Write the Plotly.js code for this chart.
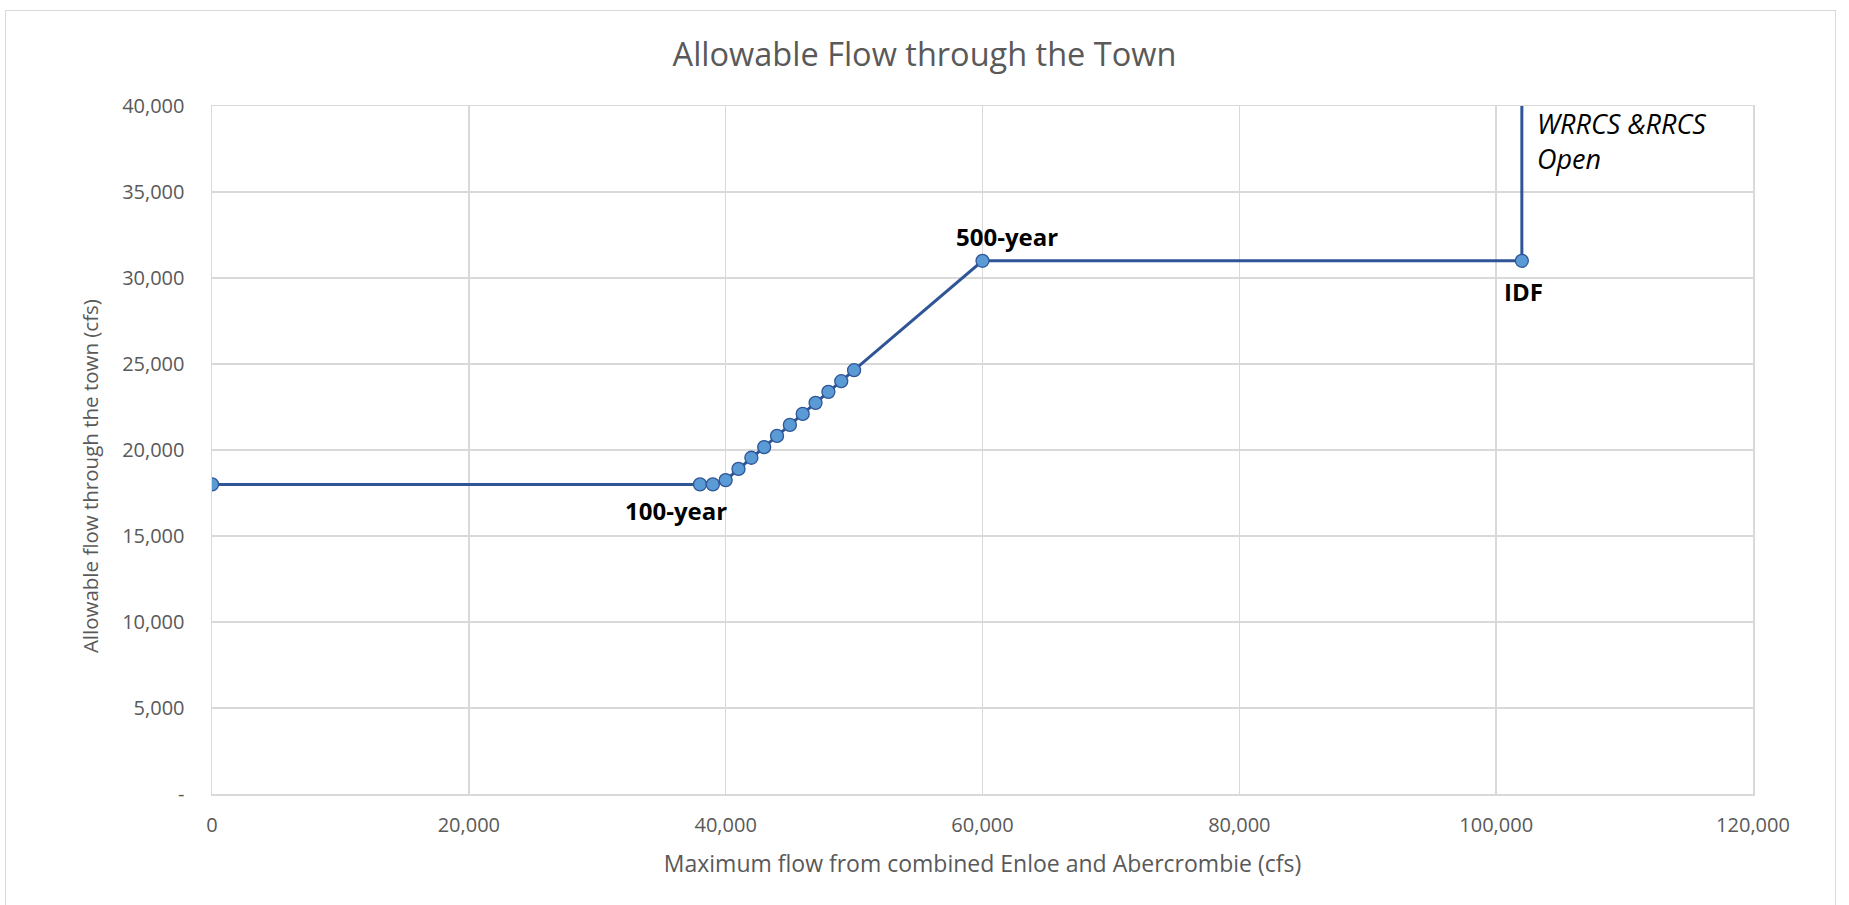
<!DOCTYPE html>
<html>
<head>
<meta charset="utf-8">
<script src="https://cdn.plot.ly/plotly-3.0.1.min.js"></script>
<style>
  html, body { margin: 0; padding: 0; background: #fff; overflow: hidden; }
  #frame { position: absolute; left: 5px; top: 10px; width: 1831px; height: 920px; border: 1px solid #D9D9D9; box-sizing: border-box; pointer-events: none; z-index: 2; }
  #chart { position: absolute; left: 0; top: 0; width: 1849px; height: 905px; }
</style>
</head>
<body>
<div id="chart"></div>
<div id="frame"></div>
<script>
// Data
const combinedFlow = [0, 38000, 39000, 40000, 41000, 42000, 43000, 44000, 45000, 46000, 47000, 48000, 49000, 50000, 60000, 102000];
const allowableFlow = [18000, 18000, 18000, 18250, 18900, 19550, 20170, 20820, 21460, 22100, 22740, 23380, 24000, 24640, 31000, 31000];
// vertical segment when WRRCS & RRCS open (runs off the top of the chart)
const openX = [102000, 102000];
const openY = [31000, 45000];

const xTickVals = [0, 20000, 40000, 60000, 80000, 100000, 120000];
const xTickText = ['0', '20,000', '40,000', '60,000', '80,000', '100,000', '120,000'];
const yTickVals = [0, 5000, 10000, 15000, 20000, 25000, 30000, 35000, 40000];
const yTickText = ['-', '5,000', '10,000', '15,000', '20,000', '25,000', '30,000', '35,000', '40,000'];

const labels = [
  {x: 38000, y: 18000, text: '100-year', xanchor: 'center', yshift: -26, xshift: -24, italic: false},
  {x: 60000, y: 31000, text: '500-year', xanchor: 'center', yshift: 24, xshift: 24, italic: false},
  {x: 102000, y: 31000, text: 'IDF', xanchor: 'center', yshift: -31, xshift: 2, italic: false},
  {x: 102000, y: 40000, text: 'WRRCS &RRCS<br>Open', xanchor: 'left', yshift: -35, xshift: 13, italic: true}
];

const lineColor = '#2F5597';
const traces = [
  {
    x: openX, y: openY, type: 'scatter', mode: 'lines',
    line: {color: lineColor, width: 3}, hoverinfo: 'skip', showlegend: false
  },
  {
    x: combinedFlow, y: allowableFlow, type: 'scatter', mode: 'lines+markers',
    line: {color: lineColor, width: 3},
    marker: {size: 13, color: '#5B9BD5', line: {color: lineColor, width: 1.3}},
    showlegend: false, cliponaxis: true
  }
];

const annotations = labels.map(l => ({
  x: l.x, y: l.y, xref: 'x', yref: 'y', text: l.italic ? '<i>' + l.text + '</i>' : '<b>' + l.text + '</b>',
  showarrow: false, xanchor: l.xanchor, yanchor: 'middle', xshift: l.xshift, yshift: l.yshift,
  align: 'left',
  font: {family: 'Open Sans, sans-serif', size: l.italic ? 27 : 24, color: '#000000'}
}));

// y-axis title placed as rotated text (Excel centres it slightly below the plot middle)
annotations.push({
  xref: 'paper', yref: 'paper', x: -0.0792, y: 0.462, xanchor: 'center', yanchor: 'middle',
  text: 'Allowable flow through the town (cfs)', textangle: -90, showarrow: false,
  font: {family: 'Open Sans, sans-serif', size: 20.5, color: '#595959'}
});

const gridColor = '#D9D9D9';
const tickFont = {family: 'Open Sans, sans-serif', size: 20, color: '#595959'};
const layout = {
  width: 1849, height: 905,
  margin: {l: 212, r: 96, t: 106, b: 111},
  paper_bgcolor: '#ffffff', plot_bgcolor: '#ffffff',
  title: {
    text: 'Allowable Flow through the Town',
    font: {family: 'Open Sans, sans-serif', size: 32.5, color: '#595959'},
    x: 0.5, xanchor: 'center', xref: 'container', y: 0.94, yanchor: 'middle', yref: 'container'
  },
  xaxis: {
    range: [0, 120000], tickvals: xTickVals, ticktext: xTickText,
    showgrid: true, gridcolor: gridColor, gridwidth: 1.5, zeroline: false,
    showline: true, linecolor: gridColor, linewidth: 1.5, mirror: true,
    ticks: '', ticklabelstandoff: 12, tickfont: tickFont,
    title: {text: 'Maximum flow from combined Enloe and Abercrombie (cfs)', standoff: 19,
      font: {family: 'Open Sans, sans-serif', size: 23, color: '#595959'}}
  },
  yaxis: {
    range: [0, 40000], tickvals: yTickVals, ticktext: yTickText,
    showgrid: true, gridcolor: gridColor, gridwidth: 1.5, zeroline: false,
    showline: true, linecolor: gridColor, linewidth: 1.5, mirror: true,
    ticks: '', ticklabelstandoff: 22, tickfont: tickFont
  },
  annotations: annotations,
  showlegend: false
};

Plotly.newPlot('chart', traces, layout, {displayModeBar: false, staticPlot: true});
</script>
</body>
</html>
